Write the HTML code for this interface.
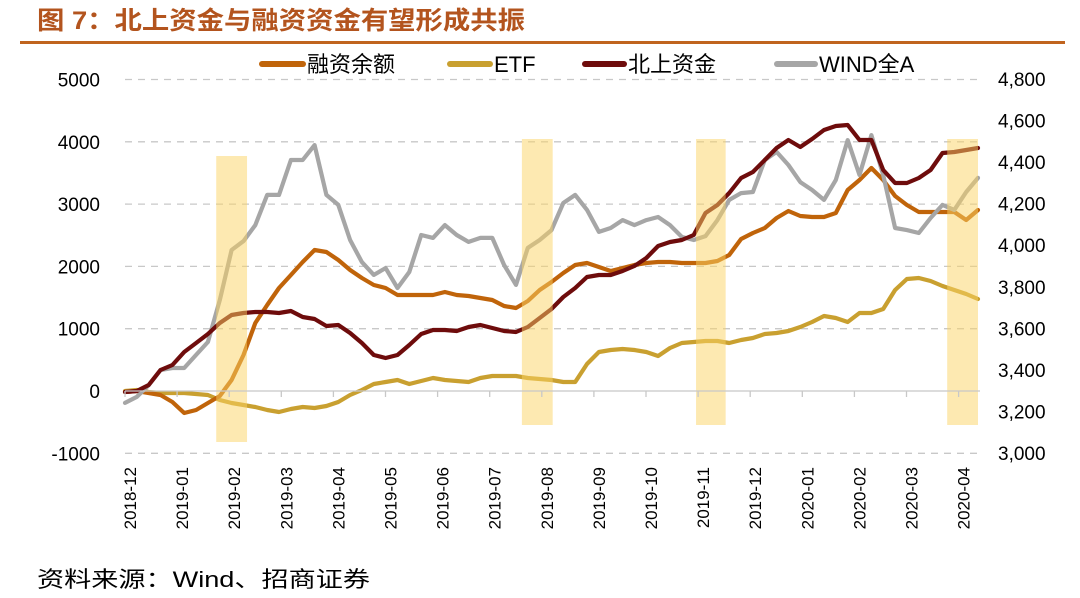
<!DOCTYPE html>
<html><head><meta charset="utf-8"><style>
body{margin:0;background:#fff;width:1080px;height:593px;overflow:hidden;font-family:"Liberation Sans","Noto Sans CJK SC",sans-serif}
</style></head><body>
<svg id="c" width="1080" height="593" xmlns="http://www.w3.org/2000/svg">
<text x="37" y="29" font-size="25" font-weight="bold" fill="#B3541E" textLength="488" lengthAdjust="spacingAndGlyphs" font-family="'Liberation Sans','Noto Sans CJK SC',sans-serif">图 7：北上资金与融资资金有望形成共振</text>
<rect x="20" y="41" width="1045" height="3" fill="#C0641E"/>
<g id="grid"></g><g id="lines"></g><g id="bands"></g><g id="axes"></g>
<g font-size="22" fill="#000">
<line x1="262" y1="64" x2="303" y2="64" stroke="#C0640A" stroke-width="6" stroke-linecap="round"/><text x="307" y="72">融资余额</text>
<line x1="450" y1="64" x2="490" y2="64" stroke="#C9A030" stroke-width="6" stroke-linecap="round"/><text x="494" y="72">ETF</text>
<line x1="585" y1="64" x2="624" y2="64" stroke="#6E0C0C" stroke-width="6" stroke-linecap="round"/><text x="628" y="72">北上资金</text>
<line x1="777" y1="64" x2="815" y2="64" stroke="#A6A6A6" stroke-width="6" stroke-linecap="round"/><text x="819" y="72">WIND全A</text>
</g>
<text x="37" y="587" font-size="22" fill="#000" textLength="333" lengthAdjust="spacingAndGlyphs">资料来源：Wind、招商证券</text>
</svg>
<script>
const months=["2018-12","2019-01","2019-02","2019-03","2019-04","2019-05","2019-06","2019-07","2019-08","2019-09","2019-10","2019-11","2019-12","2020-01","2020-02","2020-03","2020-04"];
const leftTicks=[5000,4000,3000,2000,1000,0,-1000];
const rightTicks=["4,800","4,600","4,400","4,200","4,000","3,800","3,600","3,400","3,200","3,000"];
const rightTickVals=[4800,4600,4400,4200,4000,3800,3600,3400,3200,3000];
const bandWeeks=[[7.7,10.3],[33.5,36.1],[48.2,50.7],[69.4,72]];
const margin=[-16,0,-32,-64,-177,-353,-305,-193,-80,177,578,1091,1380,1653,1862,2070,2263,2231,2103,1942,1814,1701,1653,1541,1541,1541,1541,1589,1541,1525,1493,1461,1364,1332,1445,1621,1749,1894,2022,2054,1990,1926,1974,2022,2054,2070,2070,2054,2054,2054,2087,2183,2440,2536,2616,2777,2889,2809,2793,2793,2857,3226,3387,3579,3387,3130,2985,2873,2873,2873,2873,2745,2905];
const etf=[0,16,-16,-32,-32,-32,-48,-64,-144,-193,-225,-257,-305,-337,-289,-257,-273,-241,-177,-64,16,112,144,177,112,161,209,177,161,144,209,241,241,241,209,193,177,144,144,433,626,658,674,658,626,562,690,770,786,803,803,770,819,851,915,931,963,1027,1107,1204,1172,1107,1252,1252,1316,1621,1798,1814,1766,1685,1621,1557,1477];
const north=[-16,0,96,337,417,626,770,915,1091,1220,1252,1268,1268,1252,1284,1188,1156,1043,1059,931,770,578,530,578,738,915,979,979,963,1027,1059,1011,963,947,1027,1172,1316,1509,1653,1830,1862,1862,1926,2006,2135,2327,2391,2424,2504,2857,2985,3178,3419,3515,3708,3900,4029,3916,4045,4189,4253,4269,4029,4029,3547,3338,3338,3419,3547,3820,3836,3868,3900];
const winda=[3241,3270,3327,3399,3409,3409,3472,3534,3736,3977,4020,4097,4242,4242,4410,4410,4482,4242,4194,4025,3919,3857,3890,3794,3871,4049,4035,4097,4049,4016,4035,4035,3905,3809,3987,4025,4073,4203,4242,4170,4064,4083,4121,4097,4121,4136,4097,4040,4025,4044,4121,4218,4251,4256,4410,4449,4386,4304,4266,4218,4314,4506,4338,4530,4338,4083,4073,4059,4131,4194,4170,4256,4324];

const NS="http://www.w3.org/2000/svg";
const X0=125,X1=978,N=margin.length;
const xw=i=>X0+(X1-X0)*i/(N-1);
const yL=v=>391-v*62.3/1000;
const yR=v=>453-(v-3000)*374/1800;
function mk(tag,attrs,parent){const e=document.createElementNS(NS,tag);for(const k in attrs)e.setAttribute(k,attrs[k]);parent.appendChild(e);return e;}
const grid=document.getElementById('grid'),lines=document.getElementById('lines'),bands=document.getElementById('bands'),axes=document.getElementById('axes');
leftTicks.forEach(v=>{
  if(v!==0){const l=mk('line',{x1:X0,x2:980,y1:yL(v),y2:yL(v),stroke:'#C8C8C8','stroke-width':1.3,'stroke-dasharray':'7,6'},grid);
  
  }
  const t=mk('text',{x:100,y:yL(v)+7,'text-anchor':'end','font-size':19,fill:'#000'},axes);t.textContent=v;
  
  
});
rightTicks.forEach((s,i)=>{
  const t=mk('text',{x:998,y:yR(rightTickVals[i])+7,'font-size':19,fill:'#000'},axes);t.textContent=s;
  
  
});
const ax=mk('line',{x1:X0,x2:980,y1:yL(0),y2:yL(0),stroke:'#C8C8C8','stroke-width':1.3},axes);


const mstep=52.1;
months.forEach((m,k)=>{
  const tx=X0+mstep*k;
  const tk=mk('line',{x1:tx,x2:tx,y1:391,y2:397,stroke:'#C8C8C8','stroke-width':1.3},axes);
  
  
  const t=mk('text',{x:0,y:0,'text-anchor':'end','font-size':17,fill:'#000',transform:`translate(${tx+11},467) rotate(-90)`},axes);t.textContent=m;
  
  
});
function series(arr,ys,color,name){
  const d=arr.map((v,i)=>(i?'L':'M')+xw(i).toFixed(1)+','+ys(v).toFixed(1)).join(' ');
  const p=mk('path',{d:d,fill:'none',stroke:color,'stroke-width':4.2,'stroke-linejoin':'round','stroke-linecap':'round'},lines);
  
  
}
series(etf,yL,'#C9A030','etf-line');
series(margin,yL,'#C0640A','margin-line');
series(winda,yR,'#A6A6A6','wind-a-line');
series(north,yL,'#6E0C0C','northbound-line');
bandWeeks.forEach((b,i)=>{
  const top=i===0?156:139,bot=i===0?442:425;
  const r=mk('rect',{x:xw(b[0]),y:top,width:xw(b[1])-xw(b[0]),height:bot-top,fill:'rgba(252,212,100,0.5)'},bands);
  
  
});
</script>
</body></html>
